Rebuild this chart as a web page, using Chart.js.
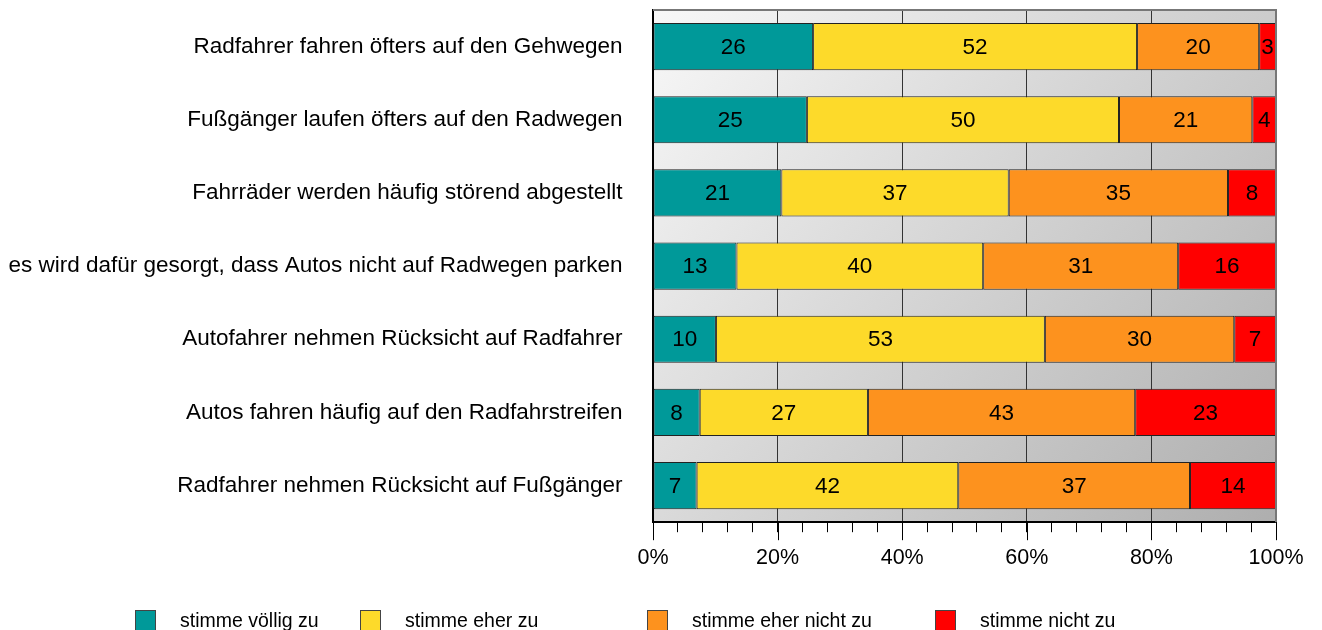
<!DOCTYPE html>
<html lang="de">
  <head>
    <meta charset="UTF-8" />
    <title>Radverkehr Umfrage</title>
    <script src="https://cdn.jsdelivr.net/npm/chart.js"></script>
    <style>
      body {
        margin: 0;
        background: #fff;
        font-family: "Liberation Sans", Arial, sans-serif;
      }
      #wrap {
        position: relative;
        width: 1322px;
        height: 630px;
      }
      #legend {
        position: absolute;
        top: 609px;
        left: 0;
        width: 1322px;
        height: 21px;
      }
      .item {
        position: absolute;
        top: 0;
        display: flex;
        align-items: center;
        font-size: 19.5px;
        color: #000;
      }
      .box {
        width: 21px;
        height: 21px;
        border: 1px solid #444;
        box-sizing: border-box;
        margin-right: 24px;
      }
    </style>
  </head>
  <body>
    <div id="wrap">
      <canvas id="chart" width="1322" height="630"></canvas>
      <div id="legend"></div>
    </div>

    <script>
      // statements (top to bottom)
      const statements = [
        "Radfahrer fahren öfters auf den Gehwegen",
        "Fußgänger laufen öfters auf den Radwegen",
        "Fahrräder werden häufig störend abgestellt",
        "es wird dafür gesorgt, dass Autos nicht auf Radwegen parken",
        "Autofahrer nehmen Rücksicht auf Radfahrer",
        "Autos fahren häufig auf den Radfahrstreifen",
        "Radfahrer nehmen Rücksicht auf Fußgänger",
      ];

      // answer categories
      const answers = [
        "stimme völlig zu",
        "stimme eher zu",
        "stimme eher nicht zu",
        "stimme nicht zu",
      ];

      // shares in percent
      const voelligZu = [25.7, 24.7, 20.6, 13.4, 10.1, 7.5, 7.0];
      const eherZu = [52.0, 50.1, 36.5, 39.6, 52.8, 27.0, 42.0];
      const eherNichtZu = [19.6, 21.4, 35.2, 31.3, 30.4, 42.9, 37.2];
      const nichtZu = [2.7, 3.8, 7.7, 15.7, 6.7, 22.6, 13.8];

      const colors = ["#009999", "#fdda2a", "#fd921e", "#ff0000"];

      // x-axis ticks: every 4 %, labelled every 20 %
      const tickStep = 4;
      const labelStep = 20;

      const seriesValues = [voelligZu, eherZu, eherNichtZu, nichtZu];
      const FONT = "'Liberation Sans', Arial, sans-serif";

      // gray gradient behind the plot + frame
      const plotBackground = {
        id: "plotBackground",
        beforeDraw(chart) {
          const { ctx, chartArea: a } = chart;
          const g = ctx.createLinearGradient(a.left, a.top, a.right, a.bottom);
          g.addColorStop(0, "#f8f8f8");
          g.addColorStop(1, "#aeaeae");
          ctx.save();
          ctx.fillStyle = g;
          ctx.fillRect(a.left, a.top, a.right - a.left, a.bottom - a.top);
          ctx.restore();
        },
        afterDraw(chart) {
          const { ctx, chartArea: a } = chart;
          const x = chart.scales.x;
          ctx.save();
          ctx.strokeStyle = "#777";
          ctx.lineWidth = 2;
          ctx.beginPath();
          ctx.moveTo(a.left, a.top);
          ctx.lineTo(a.right, a.top);
          ctx.lineTo(a.right, a.bottom);
          ctx.stroke();
          // longer marks for the labelled ticks
          ctx.strokeStyle = "#000";
          ctx.lineWidth = 1;
          x.ticks.forEach((t) => {
            if (t.value % labelStep === 0) {
              const px = Math.round(x.getPixelForValue(t.value)) + 0.5;
              ctx.beginPath();
              ctx.moveTo(px, a.bottom);
              ctx.lineTo(px, a.bottom + 18);
              ctx.stroke();
            }
          });
          ctx.restore();
        },
      };

      // numbers inside the bar segments
      const segmentLabels = {
        id: "segmentLabels",
        afterDatasetsDraw(chart) {
          const { ctx } = chart;
          ctx.save();
          ctx.font = "22.5px " + FONT;
          ctx.fillStyle = "#000";
          ctx.textAlign = "center";
          ctx.textBaseline = "middle";
          chart.data.datasets.forEach((ds, i) => {
            chart.getDatasetMeta(i).data.forEach((bar, j) => {
              const cx = (bar.x + bar.base) / 2;
              ctx.fillText(String(Math.round(ds.data[j])), cx, bar.y + 1);
            });
          });
          ctx.restore();
        },
      };

      new Chart(document.getElementById("chart"), {
        type: "bar",
        data: {
          labels: statements,
          datasets: answers.map((name, i) => ({
            label: name,
            data: seriesValues[i],
            backgroundColor: colors[i],
            borderColor: "#222",
            borderWidth: 1,
            borderSkipped: false,
            categoryPercentage: 1,
            barPercentage: 0.645,
          })),
        },
        options: {
          indexAxis: "y",
          responsive: false,
          animation: false,
          layout: { padding: { top: 0, right: 46, bottom: 46, left: 0 } },
          plugins: {
            legend: { display: false },
            tooltip: { enabled: false },
          },
          scales: {
            x: {
              stacked: true,
              min: 0,
              max: 100,
              border: { color: "#000", width: 2 },
              grid: {
                color: (c) =>
                  c.tick && c.tick.value % labelStep === 0 ? "#333" : "transparent",
                tickColor: "#000",
                tickLength: 10,
                lineWidth: 1,
              },
              ticks: {
                stepSize: tickStep,
                autoSkip: false,
                maxRotation: 0,
                padding: 13,
                color: "#000",
                font: { family: FONT, size: 21.5 },
                callback: (v) => (v % labelStep === 0 ? v + "%" : ""),
              },
            },
            y: {
              stacked: true,
              border: { color: "#000", width: 2 },
              grid: { display: false, tickLength: 34 },
              afterFit: (scale) => {
                scale.width = 653;
              },
              ticks: {
                padding: -3.5,
                color: "#000",
                font: { family: FONT, size: 22.5 },
              },
            },
          },
        },
        plugins: [plotBackground, segmentLabels],
      });

      // legend row
      const legendLefts = [135, 360, 647, 935];
      const legend = document.getElementById("legend");
      answers.forEach((name, i) => {
        const item = document.createElement("div");
        item.className = "item";
        item.style.left = legendLefts[i] + "px";
        const box = document.createElement("div");
        box.className = "box";
        box.style.background = colors[i];
        item.appendChild(box);
        item.appendChild(document.createTextNode(name));
        legend.appendChild(item);
      });
    </script>
  </body>
</html>
